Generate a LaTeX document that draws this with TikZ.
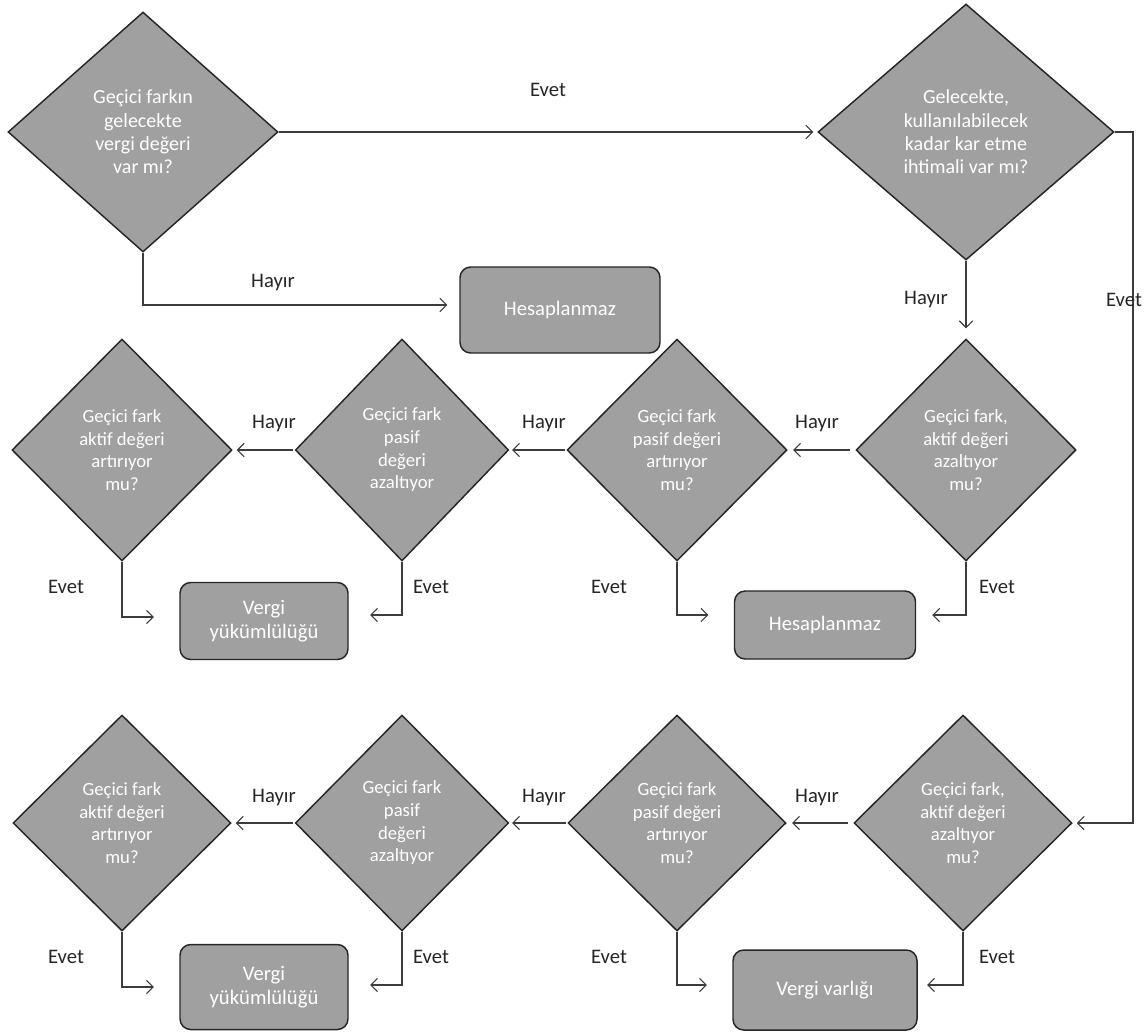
\documentclass[tikz,border=0pt]{standalone}
\usepackage{fontspec}
\setmainfont{Carlito}
\usetikzlibrary{shapes.geometric,arrows.meta,calc}
\definecolor{dgray}{RGB}{160,160,160}
\definecolor{lcol}{RGB}{60,60,60}
\begin{document}
\begin{tikzpicture}[x=0.75pt,y=-0.75pt,
 dia/.style={diamond, draw=black!85, line width=1.1pt, fill=dgray, text=white, align=center, inner sep=0pt, font=\fontsize{14}{17}\selectfont},
 bigdia/.style={dia, font=\fontsize{15}{17.5}\selectfont},
 midd/.style={dia, minimum width=165pt, minimum height=166.5pt},
 botd/.style={dia, minimum width=163.5pt, minimum height=162pt},
 rbox/.style={rectangle, rounded corners=8pt, draw=black!85, line width=1.1pt, fill=dgray, text=white, align=center, inner sep=0pt, font=\fontsize{15.5}{18.5}\selectfont},
 lbl/.style={font=\fontsize{15.5}{18}\selectfont, text=black!85},
 arr/.style={draw=lcol, line width=0.8pt, -{Straight Barb[length=5pt,width=10pt]}}
]
\useasboundingbox (0,0) rectangle (1144,1035);

% top row
\node[bigdia, minimum width=202.5pt, minimum height=180pt] (D1) at (143,132) {Geçici farkın\\gelecekte\\vergi değeri\\var mı?};
\node[bigdia, minimum width=222pt, minimum height=192pt] (D2) at (966,132) {Gelecekte,\\kullanılabilecek\\kadar kar etme\\ihtimali var mı?};
\node[rbox, minimum width=150pt, minimum height=64.5pt] (H1) at (560,310) {Hesaplanmaz};

% middle row
\node[midd] (R1) at (966,450) {Geçici fark,\\aktif değeri\\azaltıyor\\mu?};
\node[midd] (R2) at (677,450) {Geçici fark\\pasif değeri\\artırıyor\\mu?};
\node[midd, minimum width=160pt] (R3) at (402,450) {Geçici fark\\pasif\\değeri\\azaltıyor};
\node[midd] (R4) at (122,450) {Geçici fark\\aktif değeri\\artırıyor\\mu?};
\node[rbox, minimum width=135.75pt, minimum height=51pt] (H2) at (825,625) {Hesaplanmaz};
\node[rbox, minimum width=126pt, minimum height=57.75pt] (Y1) at (264,621) {Vergi\\yükümlülüğü};

% bottom row
\node[botd] (B1) at (963,823) {Geçici fark,\\aktif değeri\\azaltıyor\\mu?};
\node[botd] (B2) at (677,823) {Geçici fark\\pasif değeri\\artırıyor\\mu?};
\node[botd, minimum width=160pt] (B3) at (402,823) {Geçici fark\\pasif\\değeri\\azaltıyor};
\node[botd] (B4) at (122,823) {Geçici fark\\aktif değeri\\artırıyor\\mu?};
\node[rbox, minimum width=126pt, minimum height=63.75pt] (Y2) at (264,987) {Vergi\\yükümlülüğü};
\node[rbox, minimum width=138pt, minimum height=60pt] (VV) at (825,990) {Vergi varlığı};

\coordinate (rt) at (1133,132);

% connectors top
\draw[arr, shorten >=3pt] (D1.east) -- (D2.west);
\draw[arr, shorten >=9pt] (D1.south) |- ($(H1.west)+(0,-5)$);
\draw[arr, shorten >=7.5pt] (D2.south) -- (R1.north);
\draw[arr, shorten >=3pt] (D2.east) -- (rt) |- (B1.east);

% middle row connectors
\draw[arr, shorten <=4pt, shorten >=4pt] (R1.west) -- (R2.east);
\draw[arr, shorten <=1pt, shorten >=2pt] (R2.west) -- (R3.east);
\draw[arr, shorten <=1pt, shorten >=3pt] (R3.west) -- (R4.east);
\draw[arr, shorten >=12pt] (R1.south) |- ($(H2.east)+(0,-10)$);
\draw[arr, shorten >=19pt] (R2.south) |- ($(H2.west)+(0,-10)$);
\draw[arr, shorten >=16pt] (R3.south) |- ($(Y1.east)+(0,-6)$);
\draw[arr, shorten >=19pt] (R4.south) |- ($(Y1.west)+(0,-4)$);

% bottom row connectors
\draw[arr, shorten <=4pt, shorten >=4pt] (B1.west) -- (B2.east);
\draw[arr, shorten <=1pt, shorten >=2pt] (B2.west) -- (B3.east);
\draw[arr, shorten <=1pt, shorten >=3pt] (B3.west) -- (B4.east);
\draw[arr, shorten >=7pt] (B1.south) |- ($(VV.east)+(0,-5)$);
\draw[arr, shorten >=19pt] (B2.south) |- ($(VV.west)+(0,-5)$);
\draw[arr, shorten >=16pt] (B3.south) |- ($(Y2.east)+(0,-2)$);
\draw[arr, shorten >=19pt] (B4.south) |- (Y2.west);

% labels
\node[lbl] (l1) at (548,90) {Evet};
\node[lbl] (l2) at (273,283) {Hayır};
\node[lbl] (l3) at (926,300) {Hayır};
\node[lbl] (l4) at (1124,300) {Evet};
\node[lbl] (m1) at (274,424) {Hayır};
\node[lbl] (m2) at (544,424) {Hayır};
\node[lbl] (m3) at (817,424) {Hayır};
\node[lbl] (m4) at (66,587) {Evet};
\node[lbl] (m5) at (431,587) {Evet};
\node[lbl] (m6) at (609,587) {Evet};
\node[lbl] (m7) at (997,587) {Evet};
\node[lbl] (b1) at (274,798) {Hayır};
\node[lbl] (b2) at (544,798) {Hayır};
\node[lbl] (b3) at (817,798) {Hayır};
\node[lbl] (b4) at (66,957) {Evet};
\node[lbl] (b5) at (431,957) {Evet};
\node[lbl] (b6) at (609,957) {Evet};
\node[lbl] (b7) at (997,957) {Evet};
\end{tikzpicture}
\end{document}
